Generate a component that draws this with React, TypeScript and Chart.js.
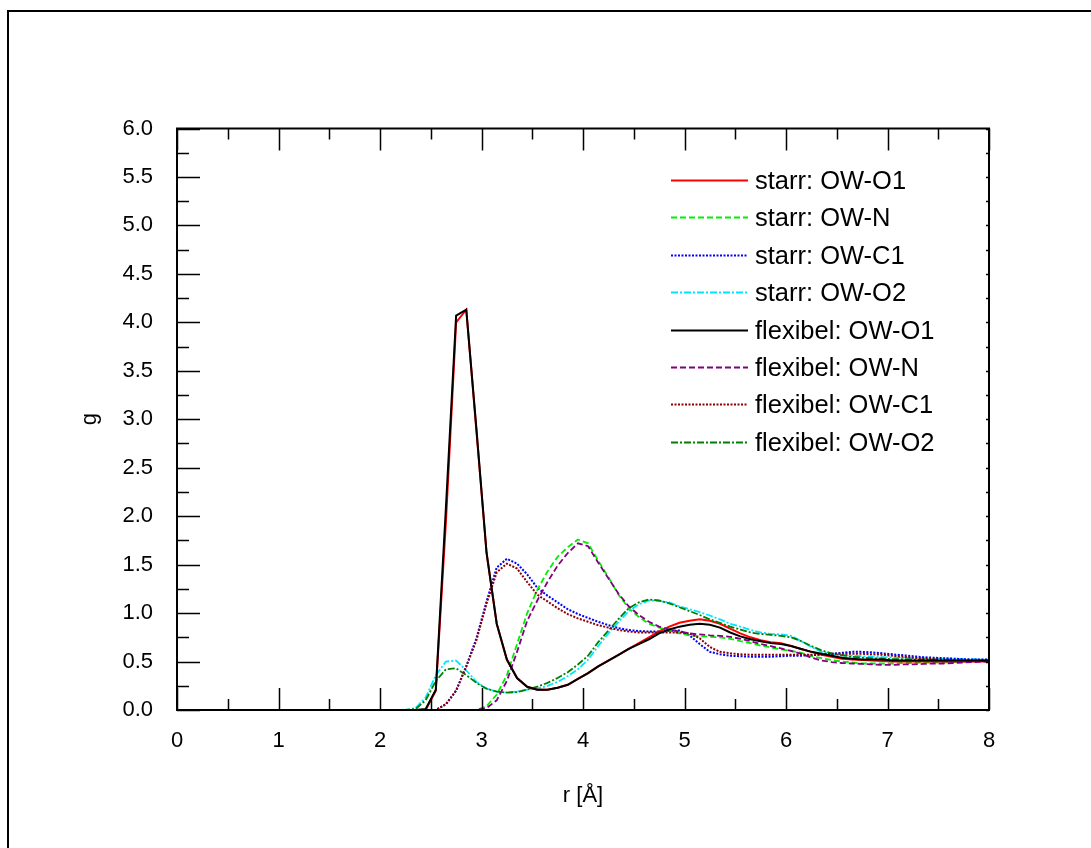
import React, { useEffect, useRef } from "react";
import { Chart, registerables } from "chart.js";

Chart.register(...registerables);

// r grid (Å)
const R = [
  0.05, 0.15, 0.25, 0.35, 0.45, 0.55, 0.65, 0.75, 0.85, 0.95,
  1.05, 1.15, 1.25, 1.35, 1.45, 1.55, 1.65, 1.75, 1.85, 1.95,
  2.05, 2.15, 2.25, 2.35, 2.45, 2.55, 2.65, 2.75, 2.85, 2.95,
  3.05, 3.15, 3.25, 3.35, 3.45, 3.55, 3.65, 3.75, 3.85, 3.95,
  4.05, 4.15, 4.25, 4.35, 4.45, 4.55, 4.65, 4.75, 4.85, 4.95,
  5.05, 5.15, 5.25, 5.35, 5.45, 5.55, 5.65, 5.75, 5.85, 5.95,
  6.05, 6.15, 6.25, 6.35, 6.45, 6.55, 6.65, 6.75, 6.85, 6.95,
  7.05, 7.15, 7.25, 7.35, 7.45, 7.55, 7.65, 7.75, 7.85, 7.95,
  8.05,
];

const STARR_OW_O1 = [
  0, 0, 0, 0, 0, 0, 0, 0, 0, 0,
  0, 0, 0, 0, 0, 0, 0, 0, 0, 0,
  0, 0, 0, 0, 0, 0.2, 1.95, 4.0, 4.13, 2.88,
  1.62, 0.89, 0.52, 0.33, 0.24, 0.21, 0.21, 0.23, 0.26, 0.32,
  0.38, 0.45, 0.51, 0.57, 0.63, 0.69, 0.75, 0.81, 0.86, 0.9,
  0.92, 0.935, 0.92, 0.89, 0.84, 0.79, 0.75, 0.72, 0.7, 0.69,
  0.66, 0.63, 0.6, 0.57, 0.55, 0.53, 0.52, 0.515, 0.51, 0.505,
  0.5, 0.5, 0.5, 0.5, 0.5, 0.5, 0.5, 0.5, 0.5, 0.5,
  0.5,
];

const STARR_OW_N = [
  0, 0, 0, 0, 0, 0, 0, 0, 0, 0,
  0, 0, 0, 0, 0, 0, 0, 0, 0, 0,
  0, 0, 0, 0, 0, 0, 0, 0, 0, 0,
  0.04, 0.16, 0.36, 0.68, 1.0, 1.24, 1.43, 1.58, 1.68, 1.76,
  1.72, 1.54, 1.37, 1.19, 1.05, 0.96, 0.89, 0.85, 0.82, 0.79,
  0.77, 0.76, 0.755, 0.75, 0.735, 0.71, 0.69, 0.665, 0.645, 0.625,
  0.61, 0.59, 0.555, 0.535, 0.515, 0.5, 0.49, 0.48, 0.48, 0.48,
  0.48, 0.485, 0.485, 0.49, 0.49, 0.49, 0.495, 0.5, 0.505, 0.51,
  0.51,
];

const STARR_OW_C1 = [
  0, 0, 0, 0, 0, 0, 0, 0, 0, 0,
  0, 0, 0, 0, 0, 0, 0, 0, 0, 0,
  0, 0, 0, 0, 0, 0, 0.06, 0.2, 0.45, 0.74,
  1.12, 1.47, 1.56, 1.51, 1.4, 1.26, 1.18, 1.11, 1.04, 0.99,
  0.95, 0.91, 0.875, 0.845, 0.825, 0.815, 0.81, 0.81, 0.815, 0.82,
  0.77, 0.68, 0.6, 0.575, 0.56, 0.555, 0.55, 0.55, 0.55, 0.555,
  0.56, 0.56, 0.565, 0.57, 0.58, 0.59, 0.6, 0.6, 0.595, 0.585,
  0.575, 0.565, 0.555, 0.545, 0.54, 0.535, 0.53, 0.525, 0.52, 0.52,
  0.52,
];

const STARR_OW_O2 = [
  0, 0, 0, 0, 0, 0, 0, 0, 0, 0,
  0, 0, 0, 0, 0, 0, 0, 0, 0, 0,
  0, 0, 0, 0.02, 0.13, 0.36, 0.5, 0.51, 0.41, 0.29,
  0.22, 0.19, 0.18, 0.19, 0.21, 0.22, 0.25, 0.29, 0.35, 0.42,
  0.52, 0.66, 0.79, 0.91, 1.02, 1.09, 1.13, 1.125, 1.11, 1.07,
  1.04, 1.01, 0.975, 0.935, 0.89, 0.86, 0.825, 0.8, 0.785, 0.78,
  0.765, 0.71, 0.65, 0.6, 0.575, 0.565, 0.56, 0.555, 0.55, 0.545,
  0.54, 0.54, 0.535, 0.535, 0.53, 0.53, 0.53, 0.525, 0.525, 0.52,
  0.52,
];

const FLEX_OW_O1 = [
  0, 0, 0, 0, 0, 0, 0, 0, 0, 0,
  0, 0, 0, 0, 0, 0, 0, 0, 0, 0,
  0, 0, 0, 0, 0.01, 0.21, 2.1, 4.07, 4.13, 2.9,
  1.62, 0.89, 0.52, 0.33, 0.24, 0.21, 0.21, 0.23, 0.26, 0.32,
  0.38, 0.45, 0.51, 0.57, 0.63, 0.68, 0.73, 0.79, 0.83, 0.86,
  0.88, 0.89, 0.88, 0.85, 0.8, 0.76, 0.73, 0.71, 0.69, 0.68,
  0.66, 0.63, 0.6, 0.58, 0.56, 0.54, 0.53, 0.52, 0.52, 0.52,
  0.51, 0.51, 0.51, 0.51, 0.51, 0.51, 0.51, 0.51, 0.51, 0.51,
  0.51,
];

const FLEX_OW_N = [
  0, 0, 0, 0, 0, 0, 0, 0, 0, 0,
  0, 0, 0, 0, 0, 0, 0, 0, 0, 0,
  0, 0, 0, 0, 0, 0, 0, 0, 0, 0,
  0.02, 0.1, 0.3, 0.6, 0.92, 1.13, 1.32, 1.49, 1.62, 1.72,
  1.69, 1.52, 1.36, 1.2, 1.07, 0.98, 0.91, 0.86, 0.83, 0.81,
  0.79, 0.78, 0.77, 0.765, 0.755, 0.735, 0.71, 0.68, 0.66, 0.635,
  0.61, 0.58, 0.54, 0.51, 0.495, 0.485, 0.48, 0.475, 0.47, 0.465,
  0.465, 0.47, 0.47, 0.475, 0.48, 0.48, 0.485, 0.49, 0.495, 0.5,
  0.5,
];

const FLEX_OW_C1 = [
  0, 0, 0, 0, 0, 0, 0, 0, 0, 0,
  0, 0, 0, 0, 0, 0, 0, 0, 0, 0,
  0, 0, 0, 0, 0, 0, 0.06, 0.2, 0.45, 0.72,
  1.1, 1.42, 1.51, 1.46, 1.32, 1.19, 1.12, 1.05, 0.99, 0.945,
  0.91, 0.875, 0.85, 0.825, 0.81, 0.8, 0.8, 0.8, 0.8, 0.8,
  0.79, 0.74, 0.65, 0.6, 0.585, 0.575, 0.57, 0.57, 0.57, 0.57,
  0.57, 0.57, 0.57, 0.575, 0.58, 0.58, 0.58, 0.58, 0.575, 0.57,
  0.56, 0.55, 0.54, 0.53, 0.525, 0.52, 0.515, 0.51, 0.51, 0.51,
  0.51,
];

const FLEX_OW_O2 = [
  0, 0, 0, 0, 0, 0, 0, 0, 0, 0,
  0, 0, 0, 0, 0, 0, 0, 0, 0, 0,
  0, 0, 0, 0.01, 0.1, 0.3, 0.42, 0.43, 0.36, 0.28,
  0.22, 0.19, 0.18, 0.185, 0.21, 0.24, 0.28, 0.33, 0.39, 0.47,
  0.56, 0.7, 0.82, 0.94, 1.05, 1.11, 1.14, 1.13, 1.1, 1.06,
  1.02, 0.98, 0.935, 0.9, 0.86, 0.83, 0.8, 0.785, 0.775, 0.765,
  0.75, 0.71, 0.66, 0.615, 0.585, 0.565, 0.55, 0.54, 0.535, 0.53,
  0.525, 0.525, 0.52, 0.52, 0.52, 0.515, 0.515, 0.51, 0.51, 0.51,
  0.51,
];

const SERIES_LABELS = [
  "starr: OW-O1",
  "starr: OW-N",
  "starr: OW-C1",
  "starr: OW-O2",
  "flexibel: OW-O1",
  "flexibel: OW-N",
  "flexibel: OW-C1",
  "flexibel: OW-O2",
];

const X_TICK_VALUES = [0, 1, 2, 3, 4, 5, 6, 7, 8];
const X_TICK_LABELS = ["0", "1", "2", "3", "4", "5", "6", "7", "8"];
const Y_TICK_VALUES = [0, 0.5, 1, 1.5, 2, 2.5, 3, 3.5, 4, 4.5, 5, 5.5, 6];
const Y_TICK_LABELS = ["0.0", "0.5", "1.0", "1.5", "2.0", "2.5", "3.0", "3.5", "4.0", "4.5", "5.0", "5.5", "6.0"];

const X_TITLE = "r [Å]";
const Y_TITLE = "g";

const FONT = "'Liberation Sans', Arial, Helvetica, sans-serif";

const SERIES_VALUES = [
  STARR_OW_O1, STARR_OW_N, STARR_OW_C1, STARR_OW_O2,
  FLEX_OW_O1, FLEX_OW_N, FLEX_OW_C1, FLEX_OW_O2,
];
const SERIES_STYLE = [
  { color: "#ff0000", dash: [], width: 2, order: 1 },
  { color: "#00ee00", dash: [6, 3], width: 1.8, order: 1 },
  { color: "#0000ff", dash: [2, 1.5], width: 2, order: 1 },
  { color: "#00e5ff", dash: [7, 2, 2, 2], width: 1.8, order: 1 },
  { color: "#000000", dash: [], width: 2, order: 0 },
  { color: "#800080", dash: [6, 3], width: 1.8, order: 0 },
  { color: "#8b0000", dash: [2, 1.5], width: 2, order: 0 },
  { color: "#008000", dash: [7, 2, 2, 2], width: 1.8, order: 0 },
];

const decorPlugin = {
  id: "decor",
  beforeDraw(chart: any) {
    const { ctx, width, height } = chart;
    ctx.save();
    ctx.fillStyle = "#ffffff";
    ctx.fillRect(0, 0, width, height);
    ctx.restore();
  },
  afterDraw(chart: any) {
    const { ctx } = chart;
    const { left, right, top, bottom } = chart.chartArea;
    const xs = chart.scales.x;
    const ys = chart.scales.y;
    ctx.save();
    ctx.strokeStyle = "#000";
    ctx.setLineDash([]);
    // outer frame
    ctx.lineWidth = 2;
    ctx.beginPath();
    ctx.moveTo(8, 900);
    ctx.lineTo(8, 11);
    ctx.lineTo(1200, 11);
    ctx.stroke();
    // plot border
    ctx.strokeRect(left, top, right - left, bottom - top);
    // ticks (inward)
    ctx.lineWidth = 1.5;
    ctx.beginPath();
    for (let i = 0; i < X_TICK_VALUES.length; i++) {
      const v = X_TICK_VALUES[i];
      const px = Math.round(xs.getPixelForValue(v)) + 0.5;
      ctx.moveTo(px, bottom); ctx.lineTo(px, bottom - 22);
      ctx.moveTo(px, top); ctx.lineTo(px, top + 22);
      if (i < X_TICK_VALUES.length - 1) {
        const m = Math.round(xs.getPixelForValue((v + X_TICK_VALUES[i + 1]) / 2)) + 0.5;
        ctx.moveTo(m, bottom); ctx.lineTo(m, bottom - 11);
        ctx.moveTo(m, top); ctx.lineTo(m, top + 11);
      }
    }
    for (let i = 0; i < Y_TICK_VALUES.length; i++) {
      const v = Y_TICK_VALUES[i];
      const py = Math.round(ys.getPixelForValue(v)) + 0.5;
      ctx.moveTo(left, py); ctx.lineTo(left + 23, py);
      ctx.moveTo(right, py); ctx.lineTo(right - 3, py);
      if (i < Y_TICK_VALUES.length - 1) {
        const m = Math.round(ys.getPixelForValue((v + Y_TICK_VALUES[i + 1]) / 2)) + 0.5;
        ctx.moveTo(left, m); ctx.lineTo(left + 12, m);
        ctx.moveTo(right, m); ctx.lineTo(right - 3, m);
      }
    }
    ctx.stroke();

    // legend
    const x0 = 671, x1 = 748, tx = 755, y0 = 180, dy = 37.4;
    ctx.font = `25.5px ${FONT}`;
    ctx.textBaseline = "middle";
    ctx.textAlign = "left";
    chart.data.datasets.forEach((ds: any, i: number) => {
      const y = Math.round(y0 + i * dy) + 0.5;
      ctx.strokeStyle = ds.borderColor;
      ctx.lineWidth = ds.borderWidth;
      ctx.setLineDash(ds.borderDash || []);
      ctx.beginPath();
      ctx.moveTo(x0, y);
      ctx.lineTo(x1, y);
      ctx.stroke();
      ctx.setLineDash([]);
      ctx.fillStyle = "#000";
      ctx.fillText(ds.label, tx, y + 1);
    });
    ctx.restore();
  },
};

export default function App() {
  const ref = useRef<HTMLCanvasElement | null>(null);

  useEffect(() => {
    document.body.style.margin = "0";
    const canvas = ref.current;
    if (!canvas) return;
    const datasets = SERIES_LABELS.map((label, i) => ({
      label,
      data: R.map((r, k) => ({ x: r, y: SERIES_VALUES[i][k] })),
      borderColor: SERIES_STYLE[i].color,
      backgroundColor: SERIES_STYLE[i].color,
      borderWidth: SERIES_STYLE[i].width,
      borderDash: SERIES_STYLE[i].dash,
      order: SERIES_STYLE[i].order,
      pointRadius: 0,
      tension: 0,
      fill: false,
    }));
    const chart = new Chart(canvas, {
      type: "line",
      data: { datasets },
      plugins: [decorPlugin],
      options: {
        animation: false,
        responsive: false,
        maintainAspectRatio: false,
        layout: { padding: { left: 0, right: 102, top: 128.5, bottom: 0 } },
        plugins: { legend: { display: false }, tooltip: { enabled: false } },
        scales: {
          x: {
            type: "linear",
            min: 0,
            max: 8,
            grid: { display: false, drawTicks: false },
            border: { display: false },
            afterBuildTicks: (s: any) => {
              s.ticks = X_TICK_VALUES.map((v) => ({ value: v }));
            },
            ticks: {
              padding: 18,
              color: "#000",
              maxRotation: 0,
              autoSkip: false,
              font: { family: FONT, size: 22 },
              callback: (_v: any, idx: number) => X_TICK_LABELS[idx],
            },
            title: {
              display: true,
              text: X_TITLE,
              color: "#000",
              font: { family: FONT, size: 22 },
              padding: { top: 0, bottom: 39 },
            },
            afterFit: (s: any) => {
              s.height = 138;
            },
          },
          y: {
            type: "linear",
            min: 0,
            max: 6,
            grid: { display: false, drawTicks: false },
            border: { display: false },
            afterBuildTicks: (s: any) => {
              s.ticks = Y_TICK_VALUES.map((v) => ({ value: v }));
            },
            ticks: {
              padding: 24,
              color: "#000",
              autoSkip: false,
              font: { family: FONT, size: 22 },
              callback: (_v: any, idx: number) => Y_TICK_LABELS[idx],
            },
            title: {
              display: true,
              text: Y_TITLE,
              color: "#000",
              font: { family: FONT, size: 22 },
              padding: { top: 77, bottom: 0 },
            },
            afterFit: (s: any) => {
              s.width = 177;
            },
          },
        },
      } as any,
    });
    return () => chart.destroy();
  }, []);

  return (
    <canvas
      ref={ref}
      width={1091}
      height={848}
      style={{ display: "block", width: 1091, height: 848 }}
    />
  );
}
